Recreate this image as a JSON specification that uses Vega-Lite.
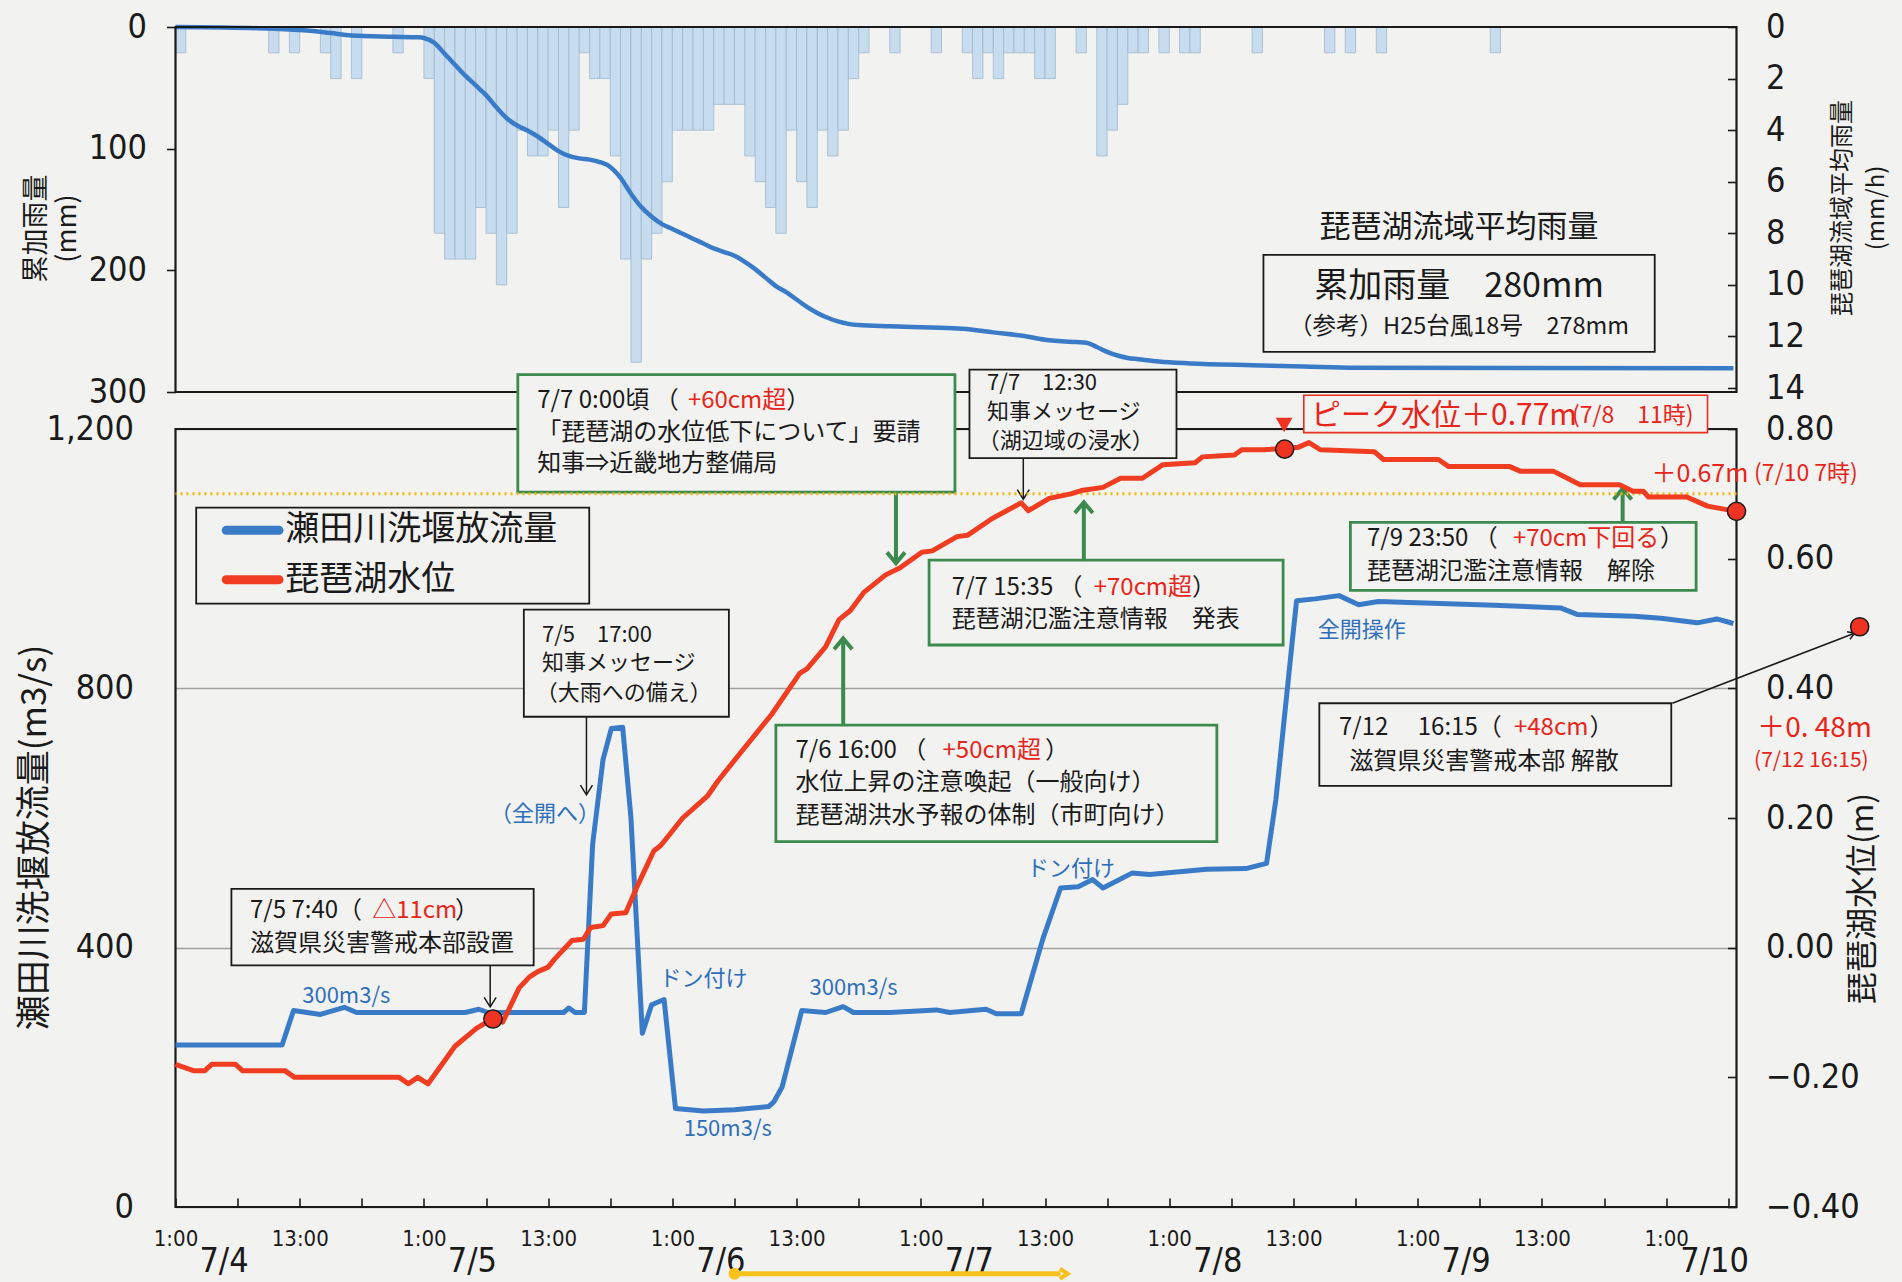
{
  "$schema": "https://vega.github.io/schema/vega-lite/v6.json",
  "background": "#f2f2f0",
  "autosize": {"type": "none"},
  "width": 1561,
  "height": 1180,
  "padding": {"left": 175.5, "top": 27, "right": 165.5, "bottom": 75},
  "config": {
    "view": {"stroke": null},
    "axis": {"domain": false, "grid": false, "labelColor": "#1a1a1a", "titleColor": "#1a1a1a", "tickColor": "#1a1a1a", "tickWidth": 1.6, "labelFont": "Liberation Sans Narrow, DejaVu Sans Condensed, sans-serif", "titleFont": "Noto Sans CJK JP", "titleFontWeight": "normal"},
    "text": {"font": "Noto Sans CJK JP"}
  },
  "datasets": {
    "one": [{}],
    "rain": [
      {"h0":1,"h1":2,"r":1},{"h0":10,"h1":11,"r":1},{"h0":12,"h1":13,"r":1},{"h0":15,"h1":16,"r":1},{"h0":16,"h1":17,"r":2},{"h0":18,"h1":19,"r":2},{"h0":22,"h1":23,"r":1},
      {"h0":25,"h1":26,"r":2},{"h0":26,"h1":27,"r":8},{"h0":27,"h1":28,"r":9},{"h0":28,"h1":29,"r":9},{"h0":29,"h1":30,"r":9},{"h0":30,"h1":31,"r":7},{"h0":31,"h1":32,"r":8},{"h0":32,"h1":33,"r":10},{"h0":33,"h1":34,"r":8},{"h0":34,"h1":35,"r":4},{"h0":35,"h1":36,"r":5},{"h0":36,"h1":37,"r":5},{"h0":37,"h1":38,"r":4},{"h0":38,"h1":39,"r":7},{"h0":39,"h1":40,"r":4},{"h0":40,"h1":41,"r":1},{"h0":41,"h1":42,"r":2},{"h0":42,"h1":43,"r":2},{"h0":43,"h1":44,"r":5},{"h0":44,"h1":45,"r":9},{"h0":45,"h1":46,"r":13},{"h0":46,"h1":47,"r":9},{"h0":47,"h1":48,"r":8},{"h0":48,"h1":49,"r":6},{"h0":49,"h1":50,"r":4},{"h0":50,"h1":51,"r":4},{"h0":51,"h1":52,"r":4},{"h0":52,"h1":53,"r":4},{"h0":53,"h1":54,"r":3},{"h0":54,"h1":55,"r":3},{"h0":55,"h1":56,"r":3},{"h0":56,"h1":57,"r":5},{"h0":57,"h1":58,"r":6},{"h0":58,"h1":59,"r":7},{"h0":59,"h1":60,"r":8},{"h0":60,"h1":61,"r":4},{"h0":61,"h1":62,"r":6},{"h0":62,"h1":63,"r":7},{"h0":63,"h1":64,"r":4},{"h0":64,"h1":65,"r":5},{"h0":65,"h1":66,"r":4},{"h0":66,"h1":67,"r":2},{"h0":67,"h1":68,"r":1},
      {"h0":70,"h1":71,"r":1},{"h0":74,"h1":75,"r":1},{"h0":77,"h1":78,"r":1},{"h0":78,"h1":79,"r":2},{"h0":79,"h1":80,"r":1},{"h0":80,"h1":81,"r":2},{"h0":81,"h1":82,"r":1},{"h0":82,"h1":83,"r":1},{"h0":83,"h1":84,"r":1},{"h0":84,"h1":85,"r":2},{"h0":85,"h1":86,"r":2},{"h0":88,"h1":89,"r":1},{"h0":90,"h1":91,"r":5},{"h0":91,"h1":92,"r":4},{"h0":92,"h1":93,"r":3},{"h0":93,"h1":94,"r":1},{"h0":94,"h1":95,"r":1},{"h0":96,"h1":97,"r":1},{"h0":98,"h1":99,"r":1},{"h0":99,"h1":100,"r":1},{"h0":105,"h1":106,"r":1},{"h0":112,"h1":113,"r":1},{"h0":114,"h1":115,"r":1},{"h0":117,"h1":118,"r":1},{"h0":128,"h1":129,"r":1}
    ],
    "cum": [
      {"t":1,"c":0},{"t":9,"c":1},{"t":12,"c":2},{"t":14,"c":3},{"t":16,"c":5},{"t":18,"c":7},{"t":22,"c":8},{"t":24.5,"c":8.5},{"t":25,"c":9},{"t":26,"c":13},{"t":27,"c":22},{"t":28,"c":31},{"t":29,"c":40},{"t":30,"c":48},{"t":31,"c":56},{"t":32,"c":66},{"t":33,"c":75},{"t":34,"c":81},{"t":35,"c":85},{"t":36,"c":90},{"t":37,"c":96},{"t":38,"c":102},{"t":39,"c":106},{"t":40,"c":108},{"t":41,"c":109},{"t":42,"c":111},{"t":43,"c":115},{"t":44,"c":124},{"t":45,"c":137},{"t":46,"c":148},{"t":47,"c":156},{"t":48,"c":162},{"t":49,"c":166},{"t":50,"c":170},{"t":51,"c":174},{"t":52,"c":178},{"t":53,"c":182},{"t":54,"c":185},{"t":55,"c":188},{"t":56,"c":193},{"t":57,"c":199},{"t":58,"c":206},{"t":59,"c":213},{"t":60,"c":218},{"t":61,"c":224},{"t":62,"c":230},{"t":63,"c":235},{"t":64,"c":239},{"t":65,"c":242},{"t":66,"c":244},{"t":67,"c":245},{"t":70,"c":246},{"t":74,"c":247},{"t":77,"c":248},{"t":80,"c":251},{"t":83,"c":254},{"t":85,"c":257},{"t":88,"c":259},{"t":89,"c":259.5},{"t":90,"c":263},{"t":91,"c":267},{"t":92,"c":270},{"t":93,"c":272},{"t":94,"c":273},{"t":96,"c":275},{"t":99,"c":276.5},{"t":105,"c":278},{"t":110,"c":279},{"t":115,"c":280},{"t":151.5,"c":280.5}
    ],
    "q": [
      {"t":1,"q":250},{"t":11.3,"q":250},{"t":12.4,"q":303},{"t":15,"q":297},{"t":17.3,"q":308},{"t":18.5,"q":300},{"t":29,"q":300},{"t":30.3,"q":305},{"t":31.2,"q":300},{"t":38.5,"q":300},{"t":39,"q":307},{"t":39.6,"q":300},{"t":40.5,"q":300},{"t":41.3,"q":560},{"t":42.3,"q":690},{"t":43.1,"q":738},{"t":44.2,"q":740},{"t":45,"q":600},{"t":46.1,"q":268},{"t":47,"q":312},{"t":48.2,"q":320},{"t":49.3,"q":152},{"t":52,"q":148},{"t":55,"q":150},{"t":58.3,"q":155},{"t":58.8,"q":162},{"t":59.6,"q":185},{"t":61.5,"q":303},{"t":63.8,"q":300},{"t":65.5,"q":309},{"t":66.5,"q":300},{"t":70,"q":300},{"t":74.5,"q":304},{"t":75.8,"q":300},{"t":79.3,"q":305},{"t":80.3,"q":298},{"t":82.7,"q":298},{"t":84.8,"q":414},{"t":86.5,"q":492},{"t":88.2,"q":494},{"t":89.6,"q":505},{"t":90.6,"q":492},{"t":93.4,"q":515},{"t":95.1,"q":513},{"t":100.6,"q":521},{"t":104.4,"q":522},{"t":106.4,"q":530},{"t":107.3,"q":628},{"t":108.9,"q":875},{"t":109.3,"q":935},{"t":111.1,"q":938},{"t":113.4,"q":943},{"t":115.3,"q":929},{"t":117.2,"q":934},{"t":128.4,"q":928},{"t":134.8,"q":924},{"t":136.4,"q":914},{"t":141.9,"q":911},{"t":144.5,"q":908},{"t":148,"q":901},{"t":149.9,"q":907},{"t":151.5,"q":900}
    ],
    "lv": [
      {"t":1,"lv":-0.18},{"t":2.8,"lv":-0.19},{"t":3.8,"lv":-0.19},{"t":4.5,"lv":-0.18},{"t":6.8,"lv":-0.18},{"t":7.5,"lv":-0.19},{"t":11.6,"lv":-0.19},{"t":12.5,"lv":-0.2},{"t":22.6,"lv":-0.2},{"t":23.5,"lv":-0.21},{"t":24.4,"lv":-0.2},{"t":25.4,"lv":-0.21},{"t":28,"lv":-0.152},{"t":30.1,"lv":-0.124},{"t":31.6,"lv":-0.11},{"t":32.6,"lv":-0.115},{"t":34.2,"lv":-0.062},{"t":35.2,"lv":-0.045},{"t":36,"lv":-0.037},{"t":37,"lv":-0.03},{"t":37.6,"lv":-0.018},{"t":39.3,"lv":0.011},{"t":40.4,"lv":0.013},{"t":41.1,"lv":0.031},{"t":42.3,"lv":0.034},{"t":43.1,"lv":0.052},{"t":44.5,"lv":0.054},{"t":45.5,"lv":0.091},{"t":47.2,"lv":0.149},{"t":47.9,"lv":0.158},{"t":50,"lv":0.2},{"t":51.4,"lv":0.22},{"t":52.4,"lv":0.234},{"t":53.4,"lv":0.257},{"t":55.1,"lv":0.291},{"t":58.6,"lv":0.36},{"t":61.3,"lv":0.423},{"t":62,"lv":0.43},{"t":63.8,"lv":0.464},{"t":65.1,"lv":0.506},{"t":66.2,"lv":0.52},{"t":67.5,"lv":0.548},{"t":69.6,"lv":0.575},{"t":71,"lv":0.586},{"t":73.1,"lv":0.61},{"t":74.1,"lv":0.612},{"t":76.5,"lv":0.634},{"t":77.5,"lv":0.636},{"t":79.9,"lv":0.662},{"t":82.7,"lv":0.686},{"t":83.4,"lv":0.674},{"t":85.4,"lv":0.693},{"t":87.5,"lv":0.7},{"t":88.5,"lv":0.705},{"t":90.6,"lv":0.71},{"t":92.3,"lv":0.724},{"t":94.4,"lv":0.724},{"t":96.4,"lv":0.745},{"t":99.5,"lv":0.748},{"t":100.2,"lv":0.757},{"t":103.3,"lv":0.76},{"t":104,"lv":0.768},{"t":106.1,"lv":0.768},{"t":108.2,"lv":0.77},{"t":109.5,"lv":0.772},{"t":110.5,"lv":0.779},{"t":111.6,"lv":0.768},{"t":116.8,"lv":0.765},{"t":117.7,"lv":0.753},{"t":123,"lv":0.753},{"t":124,"lv":0.742},{"t":129.9,"lv":0.742},{"t":130.9,"lv":0.735},{"t":134.1,"lv":0.735},{"t":136.7,"lv":0.714},{"t":140.5,"lv":0.714},{"t":141.8,"lv":0.704},{"t":142.8,"lv":0.704},{"t":143.3,"lv":0.695},{"t":147,"lv":0.695},{"t":149,"lv":0.681},{"t":151.8,"lv":0.673}
    ],
    "dots": [{"t":31.67,"lv":-0.11},{"t":108.15,"lv":0.769},{"t":151.8,"lv":0.673},{"t":163.7,"lv":0.495}],
    "boxGreen": [{"t0":34.07,"t1":76.3,"q0":1102.6,"q1":1284},{"t0":73.8,"t1":108,"q0":866.8,"q1":997.8},{"t0":114.5,"t1":147.9,"q0":951,"q1":1055.9},{"t0":59,"t1":101.6,"q0":563.6,"q1":743.2}],
    "boxBlack": [{"t0":77.7,"t1":97.7,"q0":1155,"q1":1291.7},{"t0":34.65,"t1":54.46,"q0":756.2,"q1":921.3},{"t0":6.4,"t1":35.6,"q0":372.7,"q1":490.6},{"t0":111.5,"t1":145.5,"q0":649.7,"q1":777},{"t0":3,"t1":40.97,"q0":930.6,"q1":1078.7}],
    "boxRed": [{"t0":110,"t1":149,"q0":1194.4,"q1":1252}],
    "arrowGreen": [{"t":70.6,"q0":1102.6,"q1":995},{"t":88.75,"q0":997.8,"q1":1085},{"t":140.8,"q0":1055.9,"q1":1106},{"t":65.5,"q0":743.2,"q1":875}],
    "arrowBlack": [{"t":82.9,"q0":1155,"q1":1093},{"t":40.7,"q0":756.2,"q1":637},{"t":31.4,"q0":372.7,"q1":310}],
    "headGreenDown": [{"t":70.6,"q":993}],
    "headGreenUp": [{"t":88.75,"q":1087},{"t":140.8,"q":1108},{"t":65.5,"q":877}],
    "headBlackDown": [{"t":82.9,"q":1091.7},{"t":40.7,"q":635.8},{"t":31.4,"q":308.6}],
    "txt24": [
      {"t":35.95,"q":1243,"s":"7/7 0:00頃  （"},{"t":60,"q":1243,"s":"）"},
      {"t":35.95,"q":1194.4,"s":"「琵琶湖の水位低下について」要請"},
      {"t":35.95,"q":1145.7,"s":"知事⇒近畿地方整備局"},
      {"t":76,"q":955.5,"s":"7/7 15:35  （"},{"t":99.2,"q":955.5,"s":"）"},
      {"t":76,"q":905.5,"s":"琵琶湖氾濫注意情報　発表"},
      {"t":116.1,"q":1030,"s":"7/9  23:50 （"},{"t":144.4,"q":1030,"s":"）"},
      {"t":116.1,"q":979,"s":"琵琶湖氾濫注意情報　解除"},
      {"t":60.9,"q":703,"s":"7/6  16:00  （"},{"t":85,"q":703,"s":"）"},
      {"t":60.9,"q":653.4,"s":"水位上昇の注意喚起（一般向け）"},
      {"t":60.9,"q":603.8,"s":"琵琶湖洪水予報の体制（市町向け）"},
      {"t":8.2,"q":456,"s":"7/5  7:40（"},{"t":28,"q":456,"s":"）"},
      {"t":8.2,"q":405,"s":"滋賀県災害警戒本部設置"},
      {"t":113.4,"q":739,"s":"7/12　 16:15（"},{"t":137.6,"q":739,"s":"）"},
      {"t":114.4,"q":686,"s":"滋賀県災害警戒本部 解散"}
    ],
    "red24": [
      {"t":50.5,"q":1243,"s":"+60cm超"},{"t":89.7,"q":955.5,"s":"+70cm超"},{"t":130.2,"q":1030,"s":"+70cm下回る"},{"t":75.1,"q":703,"s":"+50cm超"},{"t":20,"q":456,"s":"△11cm"},{"t":130.3,"q":739,"s":"+48cm"}
    ],
    "txt21": [
      {"t":79.4,"q":1271.5,"s":"7/7　12:30"},{"t":79.4,"q":1226,"s":"知事メッセージ"},{"t":78.5,"q":1181.5,"s":"（湖辺域の浸水）"},
      {"t":36.4,"q":882.5,"s":"7/5　17:00"},{"t":36.4,"q":838.7,"s":"知事メッセージ"},{"t":35.8,"q":793,"s":"（大雨への備え）"}
    ],
    "blueTxt": [
      {"t":36.7,"q":605.7,"s":"（全開へ）"},{"t":52,"q":352,"s":"ドン付け"},{"t":17.5,"q":324.7,"s":"300m3/s"},{"t":54.35,"q":120,"s":"150m3/s"},{"t":66.5,"q":338,"s":"300m3/s"},{"t":87.5,"q":521.6,"s":"ドン付け"},{"t":115.6,"q":890,"s":"全開操作"}
    ],
    "legendTxt": [{"t":11.6,"q":1043.7,"s":"瀬田川洗堰放流量"},{"t":11.6,"q":967.6,"s":"琵琶湖水位"}],
    "redBig": [{"t":110.7,"q":1219.6,"s":"ピーク水位＋0.77m"}],
    "red48": [{"t":153.8,"q":738,"s":"＋0. 48m"}],
    "redMid": [{"t":143.6,"q":1131.2,"s":"＋0.67m"}],
    "redSmall": [{"t":135.9,"q":1219.6,"s":"(7/8　11時)"},{"t":153.5,"q":1131.2,"s":"(7/10 7時)"}],
    "redSmall2": [{"t":153.5,"q":688,"s":"(7/12  16:15)"}],
    "topTxt": [{"t":125,"c":165,"s":"琵琶湖流域平均雨量"}],
    "topBig": [{"t":125,"c":213.4,"s":"累加雨量　280mm"}],
    "topSmall": [{"t":125,"c":246.3,"s":"（参考）H25台風18号　278mm"}],
    "topBox": [{"t0":106.1,"t1":143.9,"c0":187.3,"c1":267}]
  },
  "layer": [
    {
      "data": {"name": "rain"},
      "mark": {"type": "rect", "color": "#c7dcee", "stroke": "#9fb7cc", "strokeWidth": 0.8},
      "encoding": {
        "x": {"field": "h0", "type": "quantitative", "scale": {"domain": [1, 151.8], "nice": false, "zero": false}, "axis": null},
        "x2": {"field": "h1"},
        "y": {"field": "r", "type": "quantitative", "scale": {"domain": [0, 14], "range": [0, 361], "nice": false, "zero": false},
              "axis": {"orient": "right", "values": [0,2,4,6,8,10,12,14], "tickSize": -9, "labelFontSize": 34, "labelPadding": 38, "title": ["琵琶湖流域平均雨量", "(mm/h)"], "titleAngle": 270, "titleFontSize": 24, "titleLineHeight": 34, "titlePadding": 16}},
        "y2": {"datum": 0}
      }
    },
    {
      "data": {"name": "cum"},
      "mark": {"type": "line", "color": "#3a7bc8", "strokeWidth": 4.5, "interpolate": "monotone"},
      "encoding": {
        "x": {"field": "t", "type": "quantitative", "scale": {"domain": [1, 151.8], "nice": false, "zero": false}, "axis": null},
        "y": {"field": "c", "type": "quantitative", "scale": {"domain": [0, 300], "range": [0, 365], "nice": false, "zero": false},
              "axis": {"orient": "left", "values": [0,100,200,300], "tickSize": 9, "labelFontSize": 34, "labelPadding": 20, "title": ["累加雨量", "(mm)"], "titleFontSize": 27, "titleLineHeight": 31, "titleX": -139.5, "titleY": 201, "titleBaseline": "middle"}}
      }
    },
    {
      "data": {"name": "one"},
      "mark": {"type": "rect", "fill": null, "fillOpacity": 0, "stroke": "#1a1a1a", "strokeWidth": 2.2},
      "encoding": {
        "x": {"datum": 1, "type": "quantitative", "scale": {"domain": [1, 151.8], "nice": false, "zero": false}, "axis": null},
        "x2": {"datum": 151.8},
        "y": {"datum": 0, "type": "quantitative", "scale": {"domain": [0, 300], "range": [0, 365], "nice": false, "zero": false}, "axis": null},
        "y2": {"datum": 300}
      }
    },
    {
      "data": {"name": "topBox"},
      "mark": {"type": "rect", "fill": "#f2f2f0", "stroke": "#1a1a1a", "strokeWidth": 1.8},
      "encoding": {
        "x": {"field": "t0", "type": "quantitative", "scale": {"domain": [1, 151.8], "nice": false, "zero": false}, "axis": null},
        "x2": {"field": "t1"},
        "y": {"field": "c0", "type": "quantitative", "scale": {"domain": [0, 300], "range": [0, 365], "nice": false, "zero": false}, "axis": null},
        "y2": {"field": "c1"}
      }
    },
    {
      "data": {"name": "topTxt"},
      "mark": {"type": "text", "fontSize": 31, "color": "#1a1a1a", "align": "center", "baseline": "middle"},
      "encoding": {"x": {"field": "t", "type": "quantitative", "scale": {"domain": [1, 151.8], "nice": false, "zero": false}, "axis": null}, "y": {"field": "c", "type": "quantitative", "scale": {"domain": [0, 300], "range": [0, 365], "nice": false, "zero": false}, "axis": null}, "text": {"field": "s"}}
    },
    {
      "data": {"name": "topBig"},
      "mark": {"type": "text", "fontSize": 34, "color": "#1a1a1a", "align": "center", "baseline": "middle"},
      "encoding": {"x": {"field": "t", "type": "quantitative", "scale": {"domain": [1, 151.8], "nice": false, "zero": false}, "axis": null}, "y": {"field": "c", "type": "quantitative", "scale": {"domain": [0, 300], "range": [0, 365], "nice": false, "zero": false}, "axis": null}, "text": {"field": "s"}}
    },
    {
      "data": {"name": "topSmall"},
      "mark": {"type": "text", "fontSize": 23.5, "color": "#1a1a1a", "align": "center", "baseline": "middle"},
      "encoding": {"x": {"field": "t", "type": "quantitative", "scale": {"domain": [1, 151.8], "nice": false, "zero": false}, "axis": null}, "y": {"field": "c", "type": "quantitative", "scale": {"domain": [0, 300], "range": [0, 365], "nice": false, "zero": false}, "axis": null}, "text": {"field": "s"}}
    },
    {
      "data": {"name": "one"},
      "mark": {"type": "rect", "fill": null, "fillOpacity": 0, "stroke": "#1a1a1a", "strokeWidth": 2.2},
      "encoding": {
        "x": {"datum": 1, "type": "quantitative", "scale": {"domain": [1, 151.8], "nice": false, "zero": false}, "axis": null},
        "x2": {"datum": 151.8},
        "y": {"datum": 0, "type": "quantitative", "scale": {"domain": [0, 1200], "range": [1180, 402], "nice": false, "zero": false}, "axis": null},
        "y2": {"datum": 1200}
      }
    },
    {
      "data": {"name": "q"},
      "mark": {"type": "line", "color": "#3a7bc8", "strokeWidth": 5, "strokeJoin": "round"},
      "encoding": {
        "x": {"field": "t", "type": "quantitative", "scale": {"domain": [1, 151.8], "nice": false, "zero": false},
              "axis": {"orient": "bottom", "values": [1,7,13,19,25,31,37,43,49,55,61,67,73,79,85,91,97,103,109,115,121,127,133,139,145,151], "labelExpr": "(datum.value - 1) % 24 == 0 ? '1:00' : ((datum.value - 13) % 24 == 0 ? '13:00' : '')", "tickSize": -9, "labelFontSize": 22, "labelPadding": 30, "labelOverlap": false, "labelFlush": false, "labelBound": false, "title": null}},
        "y": {"field": "q", "type": "quantitative", "scale": {"domain": [0, 1200], "range": [1180, 402], "nice": false, "zero": false},
              "axis": {"orient": "left", "values": [0,400,800,1200], "format": ",d", "grid": true, "gridColor": "#a0a0a0", "gridWidth": 1.3, "ticks": false, "labelFontSize": 34, "labelPadding": 42, "title": "瀬田川洗堰放流量(m3/s)", "titleFontSize": 35, "titleX": -141.5, "titleY": 810, "titleBaseline": "middle"}}
      }
    },
    {
      "data": {"name": "boxGreen"},
      "mark": {"type": "rect", "fill": "#f2f2f0", "stroke": "#3d8a4e", "strokeWidth": 2.8},
      "encoding": {"x": {"field": "t0", "type": "quantitative", "scale": {"domain": [1, 151.8], "nice": false, "zero": false}, "axis": null}, "x2": {"field": "t1"}, "y": {"field": "q0", "type": "quantitative", "scale": {"domain": [0, 1200], "range": [1180, 402], "nice": false, "zero": false}, "axis": null}, "y2": {"field": "q1"}}
    },
    {
      "data": {"name": "boxBlack"},
      "mark": {"type": "rect", "fill": "#f2f2f0", "stroke": "#1a1a1a", "strokeWidth": 1.8},
      "encoding": {"x": {"field": "t0", "type": "quantitative", "scale": {"domain": [1, 151.8], "nice": false, "zero": false}, "axis": null}, "x2": {"field": "t1"}, "y": {"field": "q0", "type": "quantitative", "scale": {"domain": [0, 1200], "range": [1180, 402], "nice": false, "zero": false}, "axis": null}, "y2": {"field": "q1"}}
    },
    {
      "data": {"name": "boxRed"},
      "mark": {"type": "rect", "fill": "#f2f2f0", "stroke": "#e8301e", "strokeWidth": 1.6},
      "encoding": {"x": {"field": "t0", "type": "quantitative", "scale": {"domain": [1, 151.8], "nice": false, "zero": false}, "axis": null}, "x2": {"field": "t1"}, "y": {"field": "q0", "type": "quantitative", "scale": {"domain": [0, 1200], "range": [1180, 402], "nice": false, "zero": false}, "axis": null}, "y2": {"field": "q1"}}
    },
    {
      "data": {"name": "arrowGreen"},
      "mark": {"type": "rule", "color": "#3d8a4e", "strokeWidth": 4},
      "encoding": {"x": {"field": "t", "type": "quantitative", "scale": {"domain": [1, 151.8], "nice": false, "zero": false}, "axis": null}, "y": {"field": "q0", "type": "quantitative", "scale": {"domain": [0, 1200], "range": [1180, 402], "nice": false, "zero": false}, "axis": null}, "y2": {"field": "q1"}}
    },
    {
      "data": {"name": "arrowBlack"},
      "mark": {"type": "rule", "color": "#1a1a1a", "strokeWidth": 1.5},
      "encoding": {"x": {"field": "t", "type": "quantitative", "scale": {"domain": [1, 151.8], "nice": false, "zero": false}, "axis": null}, "y": {"field": "q0", "type": "quantitative", "scale": {"domain": [0, 1200], "range": [1180, 402], "nice": false, "zero": false}, "axis": null}, "y2": {"field": "q1"}}
    },
    {
      "data": {"name": "one"},
      "mark": {"type": "rule", "color": "#1a1a1a", "strokeWidth": 1.5},
      "encoding": {"x": {"datum": 145.6, "type": "quantitative", "scale": {"domain": [1, 151.8], "nice": false, "zero": false}, "axis": null}, "x2": {"datum": 163.2}, "y": {"datum": 777, "type": "quantitative", "scale": {"domain": [0, 1200], "range": [1180, 402], "nice": false, "zero": false}, "axis": null}, "y2": {"datum": 885}}
    },
    {
      "data": {"name": "one"},
      "mark": {"type": "point", "shape": "M-1.6,-1L0,0L-1.6,1", "filled": false, "stroke": "#1a1a1a", "strokeWidth": 1.5, "size": 64, "angle": 339, "opacity": 1},
      "encoding": {"x": {"datum": 163.2, "type": "quantitative", "scale": {"domain": [1, 151.8], "nice": false, "zero": false}, "axis": null}, "y": {"datum": 885, "type": "quantitative", "scale": {"domain": [0, 1200], "range": [1180, 402], "nice": false, "zero": false}, "axis": null}}
    },
    {
      "data": {"name": "headGreenDown"},
      "mark": {"type": "point", "shape": "M-1,-1.2L0,0L1,-1.2", "filled": false, "stroke": "#3d8a4e", "strokeWidth": 4, "size": 324, "opacity": 1},
      "encoding": {"x": {"field": "t", "type": "quantitative", "scale": {"domain": [1, 151.8], "nice": false, "zero": false}, "axis": null}, "y": {"field": "q", "type": "quantitative", "scale": {"domain": [0, 1200], "range": [1180, 402], "nice": false, "zero": false}, "axis": null}}
    },
    {
      "data": {"name": "headGreenUp"},
      "mark": {"type": "point", "shape": "M-1,1.2L0,0L1,1.2", "filled": false, "stroke": "#3d8a4e", "strokeWidth": 4, "size": 324, "opacity": 1},
      "encoding": {"x": {"field": "t", "type": "quantitative", "scale": {"domain": [1, 151.8], "nice": false, "zero": false}, "axis": null}, "y": {"field": "q", "type": "quantitative", "scale": {"domain": [0, 1200], "range": [1180, 402], "nice": false, "zero": false}, "axis": null}}
    },
    {
      "data": {"name": "headBlackDown"},
      "mark": {"type": "point", "shape": "M-1,-1.6L0,0L1,-1.6", "filled": false, "stroke": "#1a1a1a", "strokeWidth": 1.5, "size": 144, "opacity": 1},
      "encoding": {"x": {"field": "t", "type": "quantitative", "scale": {"domain": [1, 151.8], "nice": false, "zero": false}, "axis": null}, "y": {"field": "q", "type": "quantitative", "scale": {"domain": [0, 1200], "range": [1180, 402], "nice": false, "zero": false}, "axis": null}}
    },
    {
      "data": {"name": "one"},
      "mark": {"type": "rule", "color": "#3a7bc8", "strokeWidth": 9, "strokeCap": "round"},
      "encoding": {"x": {"datum": 5.9, "type": "quantitative", "scale": {"domain": [1, 151.8], "nice": false, "zero": false}, "axis": null}, "x2": {"datum": 11}, "y": {"datum": 1043.7, "type": "quantitative", "scale": {"domain": [0, 1200], "range": [1180, 402], "nice": false, "zero": false}, "axis": null}}
    },
    {
      "data": {"name": "one"},
      "mark": {"type": "rule", "color": "#f03c20", "strokeWidth": 9, "strokeCap": "round"},
      "encoding": {"x": {"datum": 5.9, "type": "quantitative", "scale": {"domain": [1, 151.8], "nice": false, "zero": false}, "axis": null}, "x2": {"datum": 11}, "y": {"datum": 967.6, "type": "quantitative", "scale": {"domain": [0, 1200], "range": [1180, 402], "nice": false, "zero": false}, "axis": null}}
    },
    {
      "data": {"name": "one"},
      "mark": {"type": "rule", "color": "#f7c21b", "strokeWidth": 5},
      "encoding": {"x": {"datum": 55, "type": "quantitative", "scale": {"domain": [1, 151.8], "nice": false, "zero": false}, "axis": null}, "x2": {"datum": 86.5}, "y": {"datum": -103, "type": "quantitative", "scale": {"domain": [0, 1200], "range": [1180, 402], "nice": false, "zero": false}, "axis": null}}
    },
    {
      "data": {"name": "one"},
      "mark": {"type": "point", "shape": "circle", "filled": true, "color": "#f7c21b", "size": 140, "opacity": 1},
      "encoding": {"x": {"datum": 55, "type": "quantitative", "scale": {"domain": [1, 151.8], "nice": false, "zero": false}, "axis": null}, "y": {"datum": -103, "type": "quantitative", "scale": {"domain": [0, 1200], "range": [1180, 402], "nice": false, "zero": false}, "axis": null}}
    },
    {
      "data": {"name": "one"},
      "mark": {"type": "point", "shape": "M-1.6,-1L0,0L-1.6,1", "filled": false, "stroke": "#f7c21b", "strokeWidth": 4, "size": 100, "opacity": 1},
      "encoding": {"x": {"datum": 87.2, "type": "quantitative", "scale": {"domain": [1, 151.8], "nice": false, "zero": false}, "axis": null}, "y": {"datum": -103, "type": "quantitative", "scale": {"domain": [0, 1200], "range": [1180, 402], "nice": false, "zero": false}, "axis": null}}
    },
    {
      "data": {"name": "txt24"},
      "mark": {"type": "text", "fontSize": 24, "color": "#1a1a1a", "align": "left", "baseline": "middle"},
      "encoding": {"x": {"field": "t", "type": "quantitative", "scale": {"domain": [1, 151.8], "nice": false, "zero": false}, "axis": null}, "y": {"field": "q", "type": "quantitative", "scale": {"domain": [0, 1200], "range": [1180, 402], "nice": false, "zero": false}, "axis": null}, "text": {"field": "s"}}
    },
    {
      "data": {"name": "red24"},
      "mark": {"type": "text", "fontSize": 24, "color": "#e8251a", "align": "left", "baseline": "middle"},
      "encoding": {"x": {"field": "t", "type": "quantitative", "scale": {"domain": [1, 151.8], "nice": false, "zero": false}, "axis": null}, "y": {"field": "q", "type": "quantitative", "scale": {"domain": [0, 1200], "range": [1180, 402], "nice": false, "zero": false}, "axis": null}, "text": {"field": "s"}}
    },
    {
      "data": {"name": "txt21"},
      "mark": {"type": "text", "fontSize": 22, "color": "#1a1a1a", "align": "left", "baseline": "middle"},
      "encoding": {"x": {"field": "t", "type": "quantitative", "scale": {"domain": [1, 151.8], "nice": false, "zero": false}, "axis": null}, "y": {"field": "q", "type": "quantitative", "scale": {"domain": [0, 1200], "range": [1180, 402], "nice": false, "zero": false}, "axis": null}, "text": {"field": "s"}}
    },
    {
      "data": {"name": "blueTxt"},
      "mark": {"type": "text", "fontSize": 22, "color": "#2f6fba", "align": "center", "baseline": "middle"},
      "encoding": {"x": {"field": "t", "type": "quantitative", "scale": {"domain": [1, 151.8], "nice": false, "zero": false}, "axis": null}, "y": {"field": "q", "type": "quantitative", "scale": {"domain": [0, 1200], "range": [1180, 402], "nice": false, "zero": false}, "axis": null}, "text": {"field": "s"}}
    },
    {
      "data": {"name": "legendTxt"},
      "mark": {"type": "text", "fontSize": 34, "color": "#1a1a1a", "align": "left", "baseline": "middle"},
      "encoding": {"x": {"field": "t", "type": "quantitative", "scale": {"domain": [1, 151.8], "nice": false, "zero": false}, "axis": null}, "y": {"field": "q", "type": "quantitative", "scale": {"domain": [0, 1200], "range": [1180, 402], "nice": false, "zero": false}, "axis": null}, "text": {"field": "s"}}
    },
    {
      "data": {"name": "redBig"},
      "mark": {"type": "text", "fontSize": 30, "color": "#e8251a", "align": "left", "baseline": "middle"},
      "encoding": {"x": {"field": "t", "type": "quantitative", "scale": {"domain": [1, 151.8], "nice": false, "zero": false}, "axis": null}, "y": {"field": "q", "type": "quantitative", "scale": {"domain": [0, 1200], "range": [1180, 402], "nice": false, "zero": false}, "axis": null}, "text": {"field": "s"}}
    },
    {
      "data": {"name": "red48"},
      "mark": {"type": "text", "fontSize": 28, "color": "#e8251a", "align": "left", "baseline": "middle"},
      "encoding": {"x": {"field": "t", "type": "quantitative", "scale": {"domain": [1, 151.8], "nice": false, "zero": false}, "axis": null}, "y": {"field": "q", "type": "quantitative", "scale": {"domain": [0, 1200], "range": [1180, 402], "nice": false, "zero": false}, "axis": null}, "text": {"field": "s"}}
    },
    {
      "data": {"name": "redMid"},
      "mark": {"type": "text", "fontSize": 25, "color": "#e8251a", "align": "left", "baseline": "middle"},
      "encoding": {"x": {"field": "t", "type": "quantitative", "scale": {"domain": [1, 151.8], "nice": false, "zero": false}, "axis": null}, "y": {"field": "q", "type": "quantitative", "scale": {"domain": [0, 1200], "range": [1180, 402], "nice": false, "zero": false}, "axis": null}, "text": {"field": "s"}}
    },
    {
      "data": {"name": "redSmall"},
      "mark": {"type": "text", "fontSize": 23, "color": "#e8251a", "align": "left", "baseline": "middle"},
      "encoding": {"x": {"field": "t", "type": "quantitative", "scale": {"domain": [1, 151.8], "nice": false, "zero": false}, "axis": null}, "y": {"field": "q", "type": "quantitative", "scale": {"domain": [0, 1200], "range": [1180, 402], "nice": false, "zero": false}, "axis": null}, "text": {"field": "s"}}
    },
    {
      "data": {"name": "redSmall2"},
      "mark": {"type": "text", "fontSize": 21, "color": "#e8251a", "align": "left", "baseline": "middle"},
      "encoding": {"x": {"field": "t", "type": "quantitative", "scale": {"domain": [1, 151.8], "nice": false, "zero": false}, "axis": null}, "y": {"field": "q", "type": "quantitative", "scale": {"domain": [0, 1200], "range": [1180, 402], "nice": false, "zero": false}, "axis": null}, "text": {"field": "s"}}
    },
    {
      "data": {"name": "one"},
      "mark": {"type": "rule", "color": "#f2b705", "strokeWidth": 3, "strokeDash": [2, 4]},
      "encoding": {"y": {"datum": 0.7, "type": "quantitative", "scale": {"domain": [-0.4, 0.8], "range": [1180, 402], "nice": false, "zero": false}, "axis": null}}
    },
    {
      "data": {"name": "lv"},
      "mark": {"type": "line", "color": "#f03c20", "strokeWidth": 5, "strokeJoin": "round"},
      "encoding": {
        "x": {"field": "t", "type": "quantitative", "scale": {"domain": [1, 151.8], "nice": false, "zero": false},
              "axis": {"orient": "bottom", "values": [1,25,49,73,97,121,145], "labelExpr": "'7/' + (4 + (datum.value - 1) / 24)", "ticks": false, "tickSize": 0, "labelFontSize": 34, "labelPadding": 37, "labelOffset": 48, "labelOverlap": false, "labelFlush": false, "labelBound": false, "title": null}},
        "y": {"field": "lv", "type": "quantitative", "scale": {"domain": [-0.4, 0.8], "range": [1180, 402], "nice": false, "zero": false},
              "axis": {"orient": "right", "values": [-0.4,-0.2,0,0.2,0.4,0.6,0.8], "format": ".2f", "tickSize": -9, "labelFontSize": 34, "labelPadding": 38, "title": "琵琶湖水位(m)", "titleAngle": 270, "titleFontSize": 32, "titleX": 125.5, "titleY": 871, "titleBaseline": "middle"}}
      }
    },
    {
      "data": {"name": "dots"},
      "mark": {"type": "point", "shape": "circle", "filled": true, "fill": "#ee3322", "stroke": "#1a1a1a", "strokeWidth": 1.5, "size": 330, "opacity": 1},
      "encoding": {"x": {"field": "t", "type": "quantitative", "scale": {"domain": [1, 151.8], "nice": false, "zero": false}, "axis": null}, "y": {"field": "lv", "type": "quantitative", "scale": {"domain": [-0.4, 0.8], "range": [1180, 402], "nice": false, "zero": false}, "axis": null}}
    },
    {
      "data": {"name": "one"},
      "mark": {"type": "point", "shape": "triangle-down", "filled": true, "color": "#ee3322", "size": 280, "opacity": 1},
      "encoding": {"x": {"datum": 108.1, "type": "quantitative", "scale": {"domain": [1, 151.8], "nice": false, "zero": false}, "axis": null}, "y": {"datum": 0.806, "type": "quantitative", "scale": {"domain": [-0.4, 0.8], "range": [1180, 402], "nice": false, "zero": false}, "axis": null}}
    }
  ],
  "resolve": {"scale": {"y": "independent"}, "axis": {"x": "independent"}}
}
